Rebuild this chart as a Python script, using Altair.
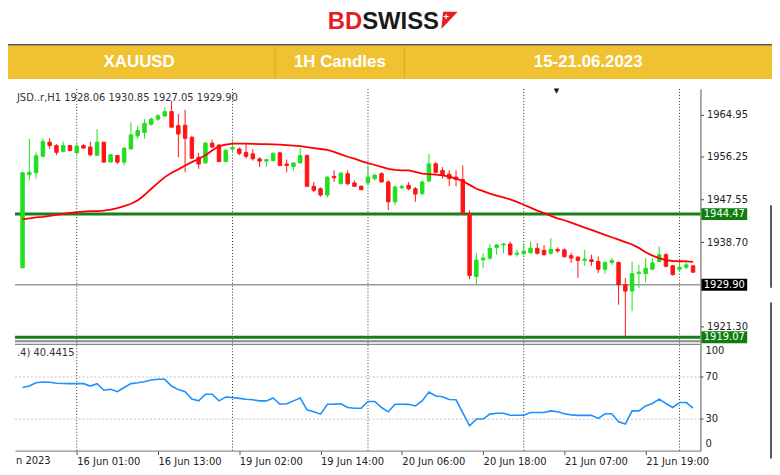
import json
import altair as alt
import pandas as pd

# ---------------- data ----------------
OPEN = [1933.4, 1952.6, 1953.0, 1956.4, 1959.3, 1958.6, 1957.4, 1958.6, 1957.1, 1958.6,
        1958.3, 1956.6, 1959.3, 1955.2, 1956.55, 1955.2, 1957.9, 1960.6, 1961.3, 1963.0,
        1964.06, 1964.7, 1965.6, 1962.7, 1962.8, 1960.3, 1956.2, 1955.05, 1959.1, 1958.7,
        1955.3, 1957.9, 1957.9, 1957.2, 1956.9, 1955.85, 1955.4, 1955.5, 1957.1, 1954.8,
        1954.3, 1955.05, 1956.55, 1950.2, 1949.7, 1948.4, 1952.25, 1950.75, 1952.8, 1950.9,
        1950.2, 1950.9, 1951.8, 1952.8, 1951.1, 1947.0, 1949.9, 1950.4, 1949.7, 1948.7,
        1951.3, 1954.84, 1953.48, 1952.7, 1952.1, 1951.6, 1944.5, 1931.6, 1935.05, 1935.4,
        1937.6, 1938.1, 1938.3, 1936.2, 1936.3, 1936.5, 1937.4, 1937.0, 1936.4, 1937.2,
        1937.1, 1935.9, 1935.6, 1934.9, 1935.05, 1934.7, 1933.1, 1934.5, 1934.5, 1929.9,
        1928.6, 1932.2, 1932.2, 1933.1, 1934.7, 1936.1, 1933.8, 1933.1, 1933.5, 1933.8]
HIGH = [1953.1, 1960.0, 1957.2, 1960.1, 1960.1, 1958.9, 1959.4, 1958.7, 1959.1, 1958.9,
        1959.4, 1962.0, 1959.4, 1956.9, 1956.7, 1958.3, 1963.4, 1962.7, 1964.06, 1964.4,
        1965.1, 1966.45, 1967.8, 1965.1, 1966.0, 1960.65, 1957.1, 1959.4, 1959.8, 1958.9,
        1957.8, 1959.5, 1958.2, 1958.9, 1957.9, 1956.2, 1955.9, 1957.2, 1957.3, 1955.7,
        1955.2, 1958.1, 1956.8, 1951.1, 1950.0, 1952.25, 1953.5, 1953.2, 1953.5, 1951.4,
        1950.4, 1954.5, 1952.8, 1953.1, 1951.4, 1950.4, 1950.5, 1951.1, 1950.06, 1951.43,
        1956.9, 1955.2, 1954.16, 1953.5, 1953.5, 1954.5, 1945.3, 1936.4, 1936.4, 1938.3,
        1938.3, 1938.5, 1938.8, 1937.1, 1938.5, 1938.8, 1938.5, 1938.1, 1939.5, 1937.6,
        1937.4, 1936.5, 1935.7, 1937.1, 1936.1, 1935.7, 1934.7, 1935.4, 1934.7, 1931.3,
        1934.7, 1934.0, 1935.4, 1935.4, 1937.8, 1936.4, 1934.0, 1934.7, 1934.5, 1934.0]
LOW = [1933.3, 1951.4, 1951.8, 1956.2, 1957.9, 1956.6, 1957.2, 1957.4, 1956.9, 1957.9,
       1956.4, 1956.5, 1955.05, 1955.2, 1954.8, 1954.5, 1957.8, 1960.0, 1960.0, 1962.7,
       1963.7, 1964.6, 1962.4, 1956.2, 1953.1, 1955.9, 1953.8, 1954.8, 1958.05, 1955.3,
       1955.3, 1957.2, 1956.6, 1955.9, 1955.5, 1954.2, 1954.2, 1955.3, 1954.4, 1953.1,
       1953.5, 1954.84, 1950.1, 1949.0, 1948.1, 1947.9, 1951.1, 1950.6, 1950.4, 1950.06,
       1949.4, 1950.4, 1951.4, 1951.0, 1945.3, 1946.3, 1949.6, 1949.4, 1947.0, 1948.4,
       1951.1, 1952.9, 1951.8, 1950.2, 1950.2, 1944.5, 1931.0, 1929.8, 1933.3, 1935.05,
       1936.1, 1936.4, 1935.9, 1935.7, 1936.1, 1936.3, 1936.1, 1935.9, 1936.1, 1936.5,
       1935.5, 1934.4, 1931.3, 1933.8, 1933.8, 1932.3, 1932.2, 1934.0, 1925.8, 1919.3,
       1924.5, 1929.2, 1930.4, 1933.0, 1934.5, 1933.5, 1931.8, 1932.5, 1933.1, 1932.3]
CLOSE = [1953.0, 1953.1, 1956.5, 1959.4, 1958.6, 1957.2, 1958.6, 1957.6, 1958.5, 1958.1,
         1956.7, 1959.3, 1955.2, 1956.7, 1955.2, 1958.05, 1960.8, 1961.7, 1963.2, 1964.06,
         1964.74, 1965.6, 1962.4, 1961.0, 1960.1, 1956.0, 1954.8, 1959.1, 1958.3, 1955.3,
         1957.6, 1958.2, 1957.0, 1956.4, 1955.9, 1955.4, 1955.7, 1957.0, 1954.5, 1954.5,
         1955.0, 1956.55, 1950.2, 1949.4, 1948.4, 1952.1, 1951.97, 1952.9, 1950.75, 1950.2,
         1949.5, 1952.1, 1952.5, 1951.1, 1947.0, 1950.06, 1950.2, 1949.7, 1948.6, 1951.1,
         1954.84, 1953.1, 1952.45, 1951.8, 1951.6, 1944.6, 1931.8, 1935.0, 1935.4, 1937.4,
         1938.1, 1938.3, 1936.1, 1936.4, 1936.8, 1937.4, 1936.4, 1936.1, 1937.2, 1936.9,
         1935.7, 1935.4, 1934.9, 1935.2, 1934.7, 1933.1, 1934.5, 1934.9, 1929.9, 1928.6,
         1932.2, 1932.5, 1933.3, 1934.4, 1936.1, 1933.7, 1932.0, 1933.5, 1934.0, 1932.5]
MA = [1943.4, 1943.6, 1943.8, 1943.9, 1944.1, 1944.3, 1944.5, 1944.7, 1944.9, 1945.0,
      1945.1, 1945.1, 1945.2, 1945.4, 1945.7, 1946.1, 1946.6, 1947.3, 1948.4, 1949.7,
      1950.9, 1952.1, 1953.0, 1953.7, 1954.5, 1955.2, 1955.9, 1956.6, 1957.6, 1958.5,
      1958.8, 1959.0, 1959.0, 1959.0, 1958.95, 1958.9, 1958.9, 1958.85, 1958.8, 1958.7,
      1958.6, 1958.5, 1958.3, 1958.1, 1957.9, 1957.7, 1957.3, 1956.8, 1956.3, 1955.9,
      1955.4, 1955.0, 1954.6, 1954.2, 1953.8, 1953.6, 1953.5, 1953.5, 1953.2, 1952.8,
      1952.7, 1952.6, 1952.45, 1952.2, 1951.8, 1951.3, 1950.5, 1949.7, 1949.2, 1948.7,
      1948.3, 1947.9, 1947.5, 1947.0, 1946.4, 1945.8, 1945.2, 1944.7, 1944.1, 1943.6,
      1943.2, 1942.7, 1942.2, 1941.7, 1941.2, 1940.7, 1940.2, 1939.7, 1939.2, 1938.7,
      1938.2, 1937.5, 1936.6, 1935.9, 1935.4, 1935.0, 1934.8, 1934.75, 1934.7, 1934.6]
RSI = [60, 61.4, 64.5, 65.2, 65, 64, 63.8, 63.7, 63.7, 63.7,
       61.4, 63.7, 57.4, 58.3, 56.1, 60, 63.7, 64.5, 65.5, 67.1,
       67.8, 67.8, 61.4, 58, 56, 49, 47.3, 53.6, 53.6, 47.3,
       51, 50.5, 49.7, 48.9, 48.3, 47.3, 47.3, 50.1, 44.1, 44.5,
       47.3, 50, 38.8, 37, 34.7, 44.1, 44.2, 44.5, 41, 40.3,
       40.3, 46.7, 46.7, 41, 36.9, 44.1, 44.1, 44, 42.5, 47.3,
       55.8, 52, 51.3, 48.6, 48.3, 36, 23.6, 30, 30, 34.7,
       35.6, 35.6, 33.7, 33.7, 33.7, 36.3, 36.3, 36.3, 37.8, 37,
       35, 34, 33.5, 33.5, 33.5, 30.6, 35, 35, 27.4, 25.2,
       37.8, 37.8, 42.5, 44.8, 48.9, 44.8, 41, 45.7, 45.7, 40.4]

PRICE_TICKS = [1964.95, 1956.25, 1947.55, 1938.70, 1921.30]
LEVELS = [1944.47, 1929.90, 1919.07]
LEVEL_KIND = ["support", "bid", "support"]
VLINE_BARS = [8, 31, 51, 74, 97]
XTICK_BARS = [8, 20, 32, 44, 56, 68, 80, 92]
XTICK_LABELS = ["16 Jun 01:00", "16 Jun 13:00", "19 Jun 02:00", "19 Jun 14:00",
                "20 Jun 06:00", "20 Jun 18:00", "21 Jun 07:00", "21 Jun 19:00"]
RSI_MID_TICKS = [70, 30]
RSI_GRID = [70, 30]
HEADER_CELLS = ["XAUUSD", "1H Candles", "15-21.06.2023"]
INFO_LINE = "JSD..r,H1  1928.06 1930.85 1927.05 1929.90"
RSI_INFO = ".4) 40.4415"
FIRST_DATE = "n 2023"

# ---------------- styling ----------------
GREEN = "#1FE01F"
RED = "#FF1414"
FONT = "DejaVu Sans"
W, H = 690, 364

bars = pd.DataFrame({"i": list(range(len(OPEN))), "open": OPEN, "high": HIGH,
                     "low": LOW, "close": CLOSE, "ma": MA, "rsi": RSI})
bars["dir"] = ["up" if c >= o else "down" for o, c in zip(OPEN, CLOSE)]
levels = pd.DataFrame({"level": LEVELS, "kind": LEVEL_KIND})
one = pd.DataFrame({"k": [0]})

xs = alt.Scale(domain=[-0.39, 99.36], nice=False, zero=False)
ps = alt.Scale(domain=[1895.69, 1970.28], nice=False, zero=False)
rs = alt.Scale(domain=[0, 344], nice=False, zero=False)
dir_scale = alt.Scale(domain=["up", "down"], range=[GREEN, RED])

label_expr = f"{json.dumps(XTICK_LABELS)}[indexof({json.dumps(XTICK_BARS)}, datum.value)]"
x_axis = alt.Axis(orient="bottom", values=XTICK_BARS, labelExpr=label_expr, labelAlign="left",
                  labelFont=FONT, labelFontSize=10, labelColor="#222", tickSize=4,
                  tickColor="#555", domainColor="#777", labelPadding=2, grid=False,
                  title=None, labelFlush=False, labelOverlap=False)
p_axis = alt.Axis(orient="right", values=PRICE_TICKS, format=".2f", labelFont=FONT,
                  labelFontSize=10, labelColor="#222", tickSize=3, tickColor="#444",
                  domainColor="#555", labelPadding=3, grid=False, title=None,
                  labelFlush=False, labelOverlap=False)

X = alt.X("i:Q", scale=xs, axis=x_axis)

# ---------------- price pane ----------------
wicks = alt.Chart(bars).mark_rule(strokeWidth=1).encode(
    x=X, y=alt.Y("low:Q", scale=ps, axis=p_axis), y2="high:Q",
    color=alt.Color("dir:N", scale=dir_scale, legend=None))
bodies = alt.Chart(bars).mark_bar(width=3.5, strokeWidth=1).encode(
    x=X, y=alt.Y("open:Q", scale=ps, axis=None), y2="close:Q",
    color=alt.Color("dir:N", scale=dir_scale, legend=None),
    stroke=alt.Stroke("dir:N", scale=dir_scale, legend=None))
ma_line = alt.Chart(bars).mark_line(color="#FF0000", strokeWidth=1.8).encode(
    x=X, y=alt.Y("ma:Q", scale=ps, axis=None))
level_lines = alt.Chart(levels).mark_rule().encode(
    y=alt.Y("level:Q", scale=ps, axis=None),
    color=alt.Color("kind:N", scale=alt.Scale(domain=["support", "bid"], range=["#16801A", "#9A9A9A"]), legend=None),
    strokeWidth=alt.StrokeWidth("kind:N", scale=alt.Scale(domain=["support", "bid"], range=[3, 1.6]), legend=None))
BOX = "M-1.92,-0.5H1.92V0.5H-1.92Z"
level_boxes = alt.Chart(levels).mark_point(shape=BOX, filled=True, size=576, opacity=1).encode(
    x=alt.value(714), y=alt.Y("level:Q", scale=ps, axis=None),
    color=alt.Color("kind:N", scale=alt.Scale(domain=["support", "bid"], range=["#0E7D0E", "#000000"]), legend=None))
level_text = alt.Chart(levels).mark_text(font=FONT, fontSize=10, color="white", align="center", baseline="middle").encode(
    x=alt.value(714), y=alt.Y("level:Q", scale=ps, axis=None), text=alt.Text("level:Q", format=".2f"))

vlines = alt.Chart(pd.DataFrame({"v": VLINE_BARS})).mark_rule(color="#333", strokeDash=[1, 2], strokeWidth=1).encode(
    x=alt.X("v:Q", scale=xs, axis=x_axis))

# ---------------- RSI pane ----------------
rsi_grid = alt.Chart(pd.DataFrame({"g": RSI_GRID})).mark_rule(color="#C4C4C4", strokeDash=[2, 2]).encode(
    y=alt.Y("g:Q", scale=rs, axis=None))
rsi_line = alt.Chart(bars).mark_line(color="#1E90FF", strokeWidth=1.6).encode(
    x=X, y=alt.Y("rsi:Q", scale=rs, axis=None))
rsi_ticks = alt.Chart(pd.DataFrame({"t": RSI_MID_TICKS})).mark_rule(color="#444").encode(
    x=alt.value(690), x2=alt.value(693), y=alt.Y("t:Q", scale=rs, axis=None))
rsi_lab_mid = alt.Chart(pd.DataFrame({"t": RSI_MID_TICKS})).mark_text(
    font=FONT, fontSize=10, color="#222", align="left", baseline="middle").encode(
    x=alt.value(695), y=alt.Y("t:Q", scale=rs, axis=None), text=alt.Text("t:Q"))
rsi_lab_top = alt.Chart(pd.DataFrame({"t": [100]})).mark_text(
    font=FONT, fontSize=10, color="#222", align="left", baseline="middle", dy=6).encode(
    x=alt.value(695), y=alt.Y("t:Q", scale=rs, axis=None), text=alt.Text("t:Q"))
rsi_lab_bot = alt.Chart(pd.DataFrame({"t": [0]})).mark_text(
    font=FONT, fontSize=10, color="#222", align="left", baseline="middle", dy=-7).encode(
    x=alt.value(695), y=alt.Y("t:Q", scale=rs, axis=None), text=alt.Text("t:Q"))

# ---------------- decorations (pixel positions relative to plot) ----------------
def txt(s, x, y, **kw):
    return alt.Chart(one).mark_text(text=s, **kw).encode(x=alt.value(x), y=alt.value(y))

def hrule(y, x1, x2, color, w):
    return alt.Chart(one).mark_rule(color=color, strokeWidth=w).encode(
        x=alt.value(x1), x2=alt.value(x2), y=alt.value(y))

def vrule(x, y1, y2, color, w):
    return alt.Chart(one).mark_rule(color=color, strokeWidth=w).encode(
        x=alt.value(x), y=alt.value(y1), y2=alt.value(y2))

logo_bd = txt("BD", 349.5, -60, font="Liberation Sans", fontSize=24, fontWeight="bold",
              color="#E31E24", align="right", baseline="alphabetic")
logo_sw = txt("SWISS", 349.5, -60, font="Liberation Sans", fontSize=24, fontWeight="bold",
              color="#1A1A1A", align="left", baseline="alphabetic")
logo_icon = alt.Chart(one).mark_point(shape="M-0.7,-1L1,-1L-0.9,1Z", filled=True, size=300,
                                      opacity=1, color="#E31E24").encode(x=alt.value(437), y=alt.value(-69))
logo_plus = txt("+", 434, -72, font="Liberation Sans", fontSize=10, fontWeight="bold",
                color="white", align="center", baseline="middle")
banner = alt.Chart(one).mark_rect(color="#F0C232").encode(
    x=alt.value(-7), x2=alt.value(762), y=alt.value(-44), y2=alt.value(-10))
banner_top = hrule(-44.5, -7, 762, "#555555", 1.5)
div1 = vrule(262, -44, -10, "#D9A82C", 1)
div2 = vrule(392, -44, -10, "#D9A82C", 1)
cell_style = dict(font="Liberation Sans", fontSize=17, fontWeight="bold", color="white",
                  align="center", baseline="middle")
cells = [txt(HEADER_CELLS[0], 125, -27, **cell_style),
         txt(HEADER_CELLS[1], 327, -27, **cell_style),
         txt(HEADER_CELLS[2], 577, -27, **cell_style)]
info = txt(INFO_LINE, 2, 9, font=FONT, fontSize=10, color="#333", align="left", baseline="middle")
marker = txt("▼", 545, 2, font=FONT, fontSize=7, color="#111", align="center", baseline="middle")
rsi_info = txt(RSI_INFO, 2, 266, font=FONT, fontSize=10, color="#333", align="left", baseline="middle")
first_date = txt(FIRST_DATE, 1, 374, font=FONT, fontSize=10, color="#222", align="left", baseline="middle")
sep1 = hrule(254, 0, 690, "#8A8A8A", 2)
sep2 = hrule(257, 0, 690, "#6A6A6A", 1)
right_edge1 = vrule(761, 117, 200, "#222", 1.5)
right_edge2 = vrule(761, 215, 372, "#222", 1.5)

chart = alt.layer(
    banner, banner_top, div1, div2, *cells, logo_bd, logo_sw, logo_icon, logo_plus,
    vlines, rsi_grid, rsi_line, rsi_ticks, rsi_lab_mid, rsi_lab_top, rsi_lab_bot,
    level_lines, wicks, bodies, ma_line, level_boxes, level_text,
    sep1, sep2, info, marker, rsi_info, first_date, right_edge1, right_edge2
).resolve_scale(
    y="independent", color="independent", stroke="independent", strokeWidth="independent"
).properties(
    width=W, height=H,
    autosize=alt.AutoSizeParams(type="none"),
    padding={"left": 7, "top": 80, "right": 72, "bottom": 15},
    background="white",
).configure_view(stroke=None)

chart.save("out.html", embed_options={"renderer": "svg", "actions": False})
